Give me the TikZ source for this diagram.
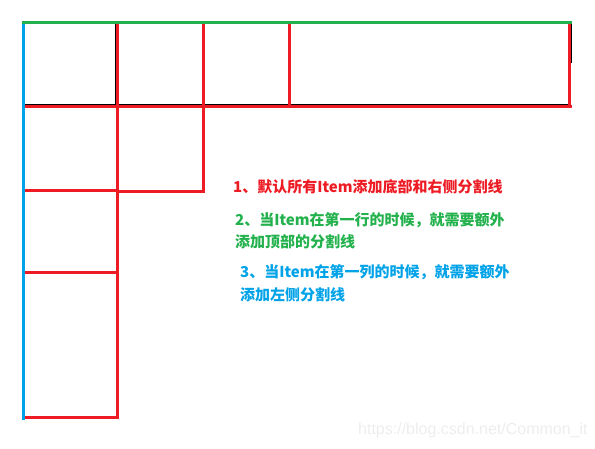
\documentclass[tikz,border=0pt]{standalone}
\usepackage{fontspec}
\setsansfont{Liberation Sans}
\newfontfamily\cjk{Noto Sans CJK SC}
\definecolor{paintRed}{HTML}{ED1C24}
\definecolor{paintGreen}{HTML}{22B14C}
\definecolor{paintBlue}{HTML}{00A2E8}
\definecolor{markGray}{HTML}{EDEDED}
\begin{document}
\begin{tikzpicture}[x=1pt, y=-1pt,
    redLine/.style={draw=paintRed, line width=3pt},
    thinLine/.style={draw=black, line width=1pt},
    noteStyle/.style={anchor=west, inner sep=0pt, font=\cjk\bfseries\fontsize{15}{18}\selectfont}]
    \useasboundingbox (0,0) rectangle (595,448);

    % thin black edges of the first row
    \draw[thinLine] (23,104) -- (570,104);
    \draw[thinLine] (115.5,22) -- (115.5,105);
    \draw[thinLine] (571,22) -- (571,63);

    % bottom and right dividers
    \draw[redLine] (23,106) -- (572,106);
    \draw[redLine] (117,22) -- (117,419);
    \draw[redLine] (203,22) -- (203,193);
    \draw[redLine] (289,22) -- (289,106);
    \draw[redLine] (569,22) -- (569,107);
    \draw[redLine] (23,190) -- (117,190);
    \draw[redLine] (117,191.5) -- (204,191.5);
    \draw[redLine] (23,272) -- (119,272);
    \draw[redLine] (23,417) -- (118,417);

    % top and left dividers
    \draw[draw=paintBlue, line width=3pt] (23.5,21) -- (23.5,420);
    \draw[draw=paintGreen, line width=3pt] (22,22) -- (572,22);

    \node[noteStyle, text=paintRed](note1) at (233,187) {1、默认所有Item添加底部和右侧分割线};
    \node[noteStyle, text=paintGreen](note2a) at (235,220) {2、当Item在第一行的时候，就需要额外};
    \node[noteStyle, text=paintGreen](note2b) at (235,242) {添加顶部的分割线};
    \node[noteStyle, text=paintBlue](note3a) at (240,272) {3、当Item在第一列的时候，就需要额外};
    \node[noteStyle, text=paintBlue](note3b) at (240,295) {添加左侧分割线};

    \node[anchor=west, inner sep=0pt, text=markGray, font=\sffamily\fontsize{16}{18}\selectfont](mark) at (358,430) {https://blog.csdn.net/Common\_it};
\end{tikzpicture}
\end{document}
